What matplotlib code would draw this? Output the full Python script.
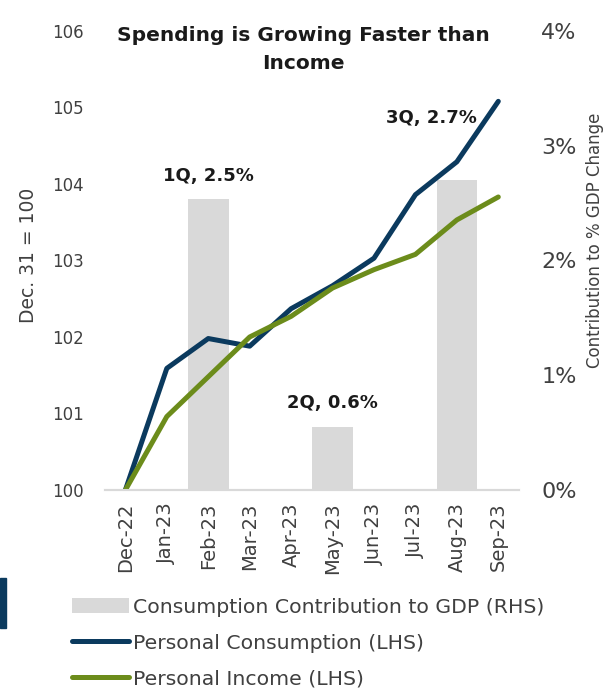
import matplotlib
matplotlib.use("Agg")
import matplotlib.pyplot as plt
from matplotlib.patches import Rectangle
import numpy as np

# Data
months = ["Dec-22", "Jan-23", "Feb-23", "Mar-23", "Apr-23",
          "May-23", "Jun-23", "Jul-23", "Aug-23", "Sep-23"]
consumption = [100.0, 101.59, 101.98, 101.88, 102.37,
               102.67, 103.03, 103.86, 104.29, 105.08]
income = [100.0, 100.96, 101.48, 102.00, 102.27,
          102.64, 102.88, 103.08, 103.53, 103.83]
gdp_contrib = [np.nan, np.nan, 2.54, np.nan, np.nan,
               0.55, np.nan, np.nan, 2.70, np.nan]
bar_labels = ["1Q, 2.5%", "2Q, 0.6%", "3Q, 2.7%"]
lhs_ticks = [100, 101, 102, 103, 104, 105, 106]
rhs_ticks = [0, 1, 2, 3, 4]
rhs_ticklabels = ["0%", "1%", "2%", "3%", "4%"]

NAVY = "#0b3a5e"
GREEN = "#6c8c1b"
BAR_GRAY = "#d9d9d9"
TEXT_GRAY = "#404040"

plt.rcParams["font.family"] = ["DejaVu Sans"]

fig = plt.figure(figsize=(6.04, 6.88), dpi=100)

# bar axis carries the right-hand scale, line axis sits on top with the left scale
ax_bar = fig.add_axes([0.1733, 0.2878, 0.686, 0.6672])
ax_line = ax_bar.twinx()

x = np.arange(len(months))
ax_bar.bar(x, gdp_contrib, width=0.98, color=BAR_GRAY,
           label="Consumption Contribution to GDP (RHS)")
ax_bar.set_ylim(0, 4)
ax_bar.yaxis.tick_right()
ax_bar.set_yticks(rhs_ticks)
ax_bar.set_yticklabels(rhs_ticklabels, fontsize=16, color=TEXT_GRAY)
ax_bar.tick_params(axis="y", length=0, pad=16)

ax_line.plot(x, consumption, color=NAVY, lw=3.6, solid_capstyle="round",
             label="Personal Consumption (LHS)")
ax_line.plot(x, income, color=GREEN, lw=3.6, solid_capstyle="round",
             label="Personal Income (LHS)")
ax_line.set_ylim(100, 106)
ax_line.yaxis.tick_left()
ax_line.set_yticks(lhs_ticks)
ax_line.set_yticklabels([str(t) for t in lhs_ticks], fontsize=12, color=TEXT_GRAY)
ax_line.tick_params(axis="y", length=0, pad=15)

ax_bar.set_xlim(-0.5, len(months) - 0.5)
ax_bar.set_xticks(x)
ax_bar.set_xticklabels(months, rotation=90, fontsize=14, color=TEXT_GRAY)
ax_bar.tick_params(axis="x", length=0, pad=9)

for a in (ax_bar, ax_line):
    for side in ("top", "left", "right"):
        a.spines[side].set_visible(False)
    a.spines["bottom"].set_color(BAR_GRAY)
    a.spines["bottom"].set_linewidth(1.5)

# axis titles
fig.text(28.5 / 604, 1 - 255 / 688, "Dec. 31 = 100", rotation=90,
         ha="center", va="center", fontsize=13.5, color=TEXT_GRAY)
fig.text(595 / 604, 1 - 240 / 688, "Contribution to % GDP Change", rotation=90,
         ha="center", va="center", fontsize=12, color=TEXT_GRAY)

# quarter labels
ax_bar.text(2, 2.74, bar_labels[0], ha="center", va="center",
            fontsize=13, fontweight="bold", color="#1a1a1a")
ax_bar.text(5, 0.76, bar_labels[1], ha="center", va="center",
            fontsize=13, fontweight="bold", color="#1a1a1a")
ax_bar.text(7.38, 3.24, bar_labels[2], ha="center", va="center",
            fontsize=13, fontweight="bold", color="#1a1a1a")

fig.text(0.502, 0.962, "Spending is Growing Faster than\nIncome",
         ha="center", va="top", fontsize=14.5, fontweight="bold",
         color="#1a1a1a", linespacing=1.58)

handles = ax_bar.get_legend_handles_labels()[0] + ax_line.get_legend_handles_labels()[0]
labels = ax_bar.get_legend_handles_labels()[1] + ax_line.get_legend_handles_labels()[1]
fig.legend(handles, labels, loc="upper left", bbox_to_anchor=(0.105, 0.143),
           frameon=False, fontsize=14.7, handlelength=2.8, handletextpad=0.2,
           labelspacing=0.82, labelcolor=TEXT_GRAY, borderaxespad=0)

# navy slide accent at the far left
fig.patches.append(Rectangle((0, 1 - 628 / 688), 6 / 604, 50 / 688,
                             transform=fig.transFigure, color=NAVY))

fig.savefig("out.png", dpi=100)
